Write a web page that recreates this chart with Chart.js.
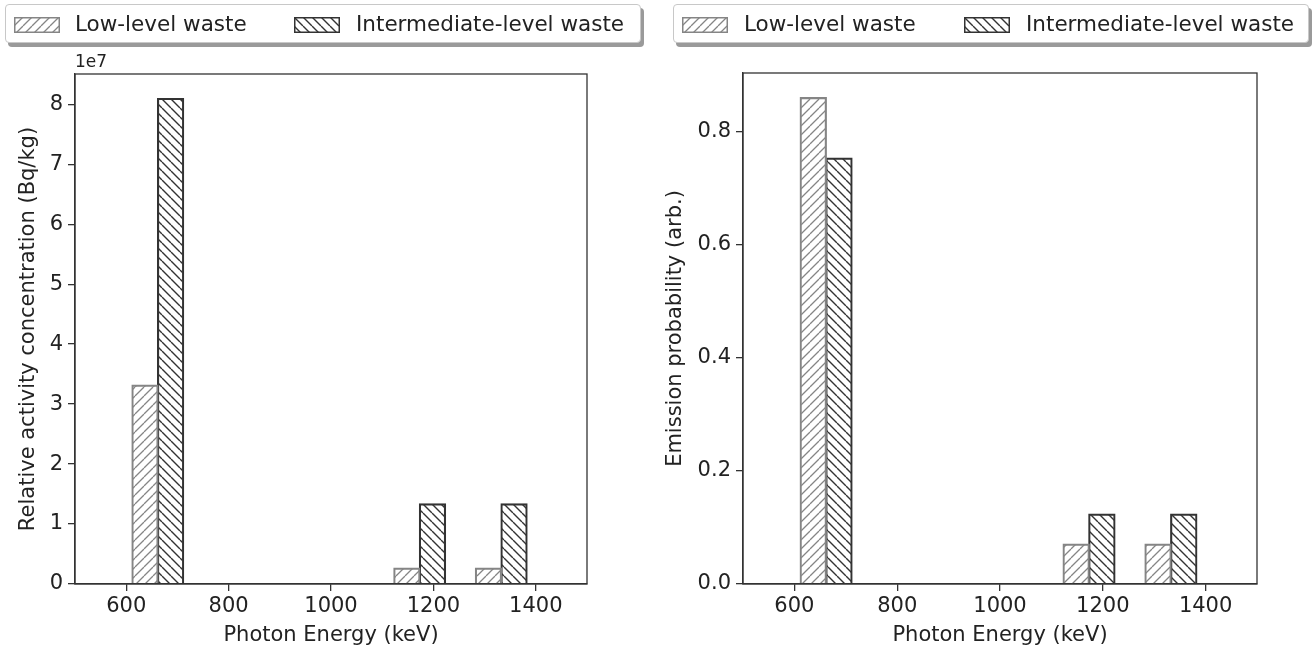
<!DOCTYPE html>
<html>
<head>
<meta charset="utf-8">
<script src="https://cdn.jsdelivr.net/npm/chart.js@4.4.0/dist/chart.umd.min.js"></script>
<style>
  body { margin: 0; background: #fff; width: 1314px; height: 651px; position: relative; overflow: hidden; font-family: 'DejaVu Sans', sans-serif; }
  canvas.chart { position: absolute; top: 0; }
  .legend { position: absolute; top: 4px; height: 37px; border: 1px solid #c8c8c8; border-radius: 4px; background: #fff;
            box-shadow: 3px 4px 0 #9a9a9a; font-size: 21.5px; color: #222; }
  .legend canvas { position: absolute; top: 12px; }
  .legend span { position: absolute; top: 6px; white-space: nowrap; }
</style>
</head>
<body>
<canvas id="leftChart" class="chart" width="657" height="651" style="left:0"></canvas>
<canvas id="rightChart" class="chart" width="657" height="651" style="left:657px"></canvas>

<div class="legend" style="left:5px; width:634px">
  <canvas id="lgL1" width="46" height="16" style="left:8px"></canvas><span style="left:69px">Low-level waste</span>
  <canvas id="lgL2" width="46" height="16" style="left:288px"></canvas><span style="left:350px">Intermediate-level waste</span>
</div>
<div class="legend" style="left:673px; width:634px">
  <canvas id="lgR1" width="46" height="16" style="left:8px"></canvas><span style="left:70px">Low-level waste</span>
  <canvas id="lgR2" width="46" height="16" style="left:290px"></canvas><span style="left:352px">Intermediate-level waste</span>
</div>

<script>
// gamma lines (keV) of Cs-137 and Co-60
var energies = [661.7, 1173.2, 1332.5];
var seriesNames = ['Low-level waste', 'Intermediate-level waste'];

// left panel: relative activity concentration (Bq/kg)
var lowActivity = [3.32e7, 0.27e7, 0.27e7];
var intActivity = [8.10e7, 1.34e7, 1.34e7];

// right panel: emission probability
var lowEmission = [0.860, 0.071, 0.071];
var intEmission = [0.753, 0.124, 0.124];

// tick labels
var xTicks = [600, 800, 1000, 1200, 1400];
var yTicksActivity = [0, 1e7, 2e7, 3e7, 4e7, 5e7, 6e7, 7e7, 8e7];
var yTicksEmission = [0, 0.2, 0.4, 0.6, 0.8];

var BAR_KEV = 50;          // width of one bar in keV
var X_MIN = 500, X_MAX = 1500;

var FONT = "'DejaVu Sans', sans-serif";
var TEXT = '#222';
var LOW_COLOR = '#858585';
var INT_COLOR = '#333';

function hatch(color, dir, lw) {
    var s = 9;
    var c = document.createElement('canvas');
    c.width = s; c.height = s;
    var g = c.getContext('2d');
    g.strokeStyle = color;
    g.lineWidth = lw;
    g.beginPath();
    for (var k = -1; k <= 1; k++) {
        if (dir === '/') { g.moveTo(k * s, s); g.lineTo(k * s + s, 0); }
        else { g.moveTo(k * s, 0); g.lineTo(k * s + s, s); }
    }
    g.stroke();
    return g.createPattern(c, 'repeat');
}

function swatch(id, color, dir, lw) {
    var c = document.getElementById(id);
    var g = c.getContext('2d');
    g.fillStyle = hatch(color, dir, lw);
    g.fillRect(0, 0, c.width, c.height);
    g.strokeStyle = color;
    g.lineWidth = 1.5;
    g.strokeRect(0.75, 0.75, c.width - 1.5, c.height - 1.5);
}
swatch('lgL1', LOW_COLOR, '/', 1.3); swatch('lgL2', INT_COLOR, '\\', 1.4);
swatch('lgR1', LOW_COLOR, '/', 1.3); swatch('lgR2', INT_COLOR, '\\', 1.4);

// black frame round the plot area (matplotlib style)
var framePlugin = {
    id: 'frame',
    afterDraw: function(chart) {
        var a = chart.chartArea, g = chart.ctx;
        g.save();
        g.strokeStyle = INT_COLOR;
        g.lineWidth = 1.3;
        g.strokeRect(a.left, a.top, a.right - a.left, a.bottom - a.top);
        g.restore();
    }
};

function makeChart(id, lowVals, intVals, yTicks, yMax, yTitle, tickFmt, area, yTitlePad, extraText) {
    var plotW = area.right - area.left;
    // borders are drawn inside the bar, so widen by one pixel to make neighbours touch
    var thick = BAR_KEV * plotW / (X_MAX - X_MIN) + 1;
    var plugins = [framePlugin];
    if (extraText) {
        plugins.push({
            id: 'offsetText',
            afterDraw: function(chart) {
                var g = chart.ctx;
                g.save();
                g.font = '17px ' + FONT;
                g.fillStyle = TEXT;
                g.textBaseline = 'bottom';
                g.fillText(extraText, chart.chartArea.left, chart.chartArea.top - 3);
                g.restore();
            }
        });
    }
    return new Chart(document.getElementById(id).getContext('2d'), {
        type: 'bar',
        data: {
            datasets: [
                {
                    label: seriesNames[0],
                    data: energies.map(function(e, i) { return {x: e - BAR_KEV / 2, y: lowVals[i]}; }),
                    backgroundColor: hatch(LOW_COLOR, '/', 1.3),
                    borderColor: LOW_COLOR,
                    borderWidth: 1.5,
                    barThickness: thick
                },
                {
                    label: seriesNames[1],
                    data: energies.map(function(e, i) { return {x: e + BAR_KEV / 2, y: intVals[i]}; }),
                    backgroundColor: hatch(INT_COLOR, '\\', 1.4),
                    borderColor: INT_COLOR,
                    borderWidth: 1.5,
                    barThickness: thick
                }
            ]
        },
        options: {
            responsive: false,
            animation: false,
            grouped: false,
            layout: { padding: { top: area.top, right: 657 - area.right, left: 0, bottom: 0 } },
            plugins: { legend: { display: false }, tooltip: { enabled: false } },
            scales: {
                x: {
                    type: 'linear',
                    min: X_MIN, max: X_MAX,
                    offset: false,
                    afterBuildTicks: function(s) { s.ticks = xTicks.map(function(v) { return {value: v}; }); },
                    afterFit: function(s) { s.height = 651 - area.bottom; },
                    grid: { display: true, offset: false, drawOnChartArea: false, drawTicks: true, tickLength: 7, color: INT_COLOR, lineWidth: 1.3 },
                    border: { display: true, color: INT_COLOR, width: 1.3 },
                    ticks: { color: TEXT, font: { family: FONT, size: 21 }, padding: 3, maxRotation: 0,
                             callback: function(v) { return String(v); } },
                    title: { display: true, text: 'Photon Energy (keV)', color: TEXT, font: { family: FONT, size: 21 }, padding: { top: 0, bottom: 3 } }
                },
                y: {
                    min: 0, max: yMax,
                    afterBuildTicks: function(s) { s.ticks = yTicks.map(function(v) { return {value: v}; }); },
                    afterFit: function(s) { s.width = area.left; },
                    grid: { display: true, drawOnChartArea: false, drawTicks: true, tickLength: 7, color: INT_COLOR, lineWidth: 1.3 },
                    border: { display: true, color: INT_COLOR, width: 1.3 },
                    ticks: { color: TEXT, font: { family: FONT, size: 21 }, padding: 5, callback: tickFmt },
                    title: { display: true, text: yTitle, color: TEXT, font: { family: FONT, size: 21 }, padding: { top: yTitlePad, bottom: 0 } }
                }
            }
        },
        plugins: plugins
    });
}

makeChart('leftChart', lowActivity, intActivity, yTicksActivity, 8.505e7,
    'Relative activity concentration (Bq/kg)',
    function(v) { return String(Math.round(v / 1e7)); },
    { left: 75, right: 587, top: 74, bottom: 584 }, 16, '1e7');

makeChart('rightChart', lowEmission, intEmission, yTicksEmission, 0.903,
    'Emission probability (arb.)',
    function(v) { return v.toFixed(1); },
    { left: 86, right: 600, top: 73, bottom: 584 }, 6, null);
</script>
</body>
</html>
